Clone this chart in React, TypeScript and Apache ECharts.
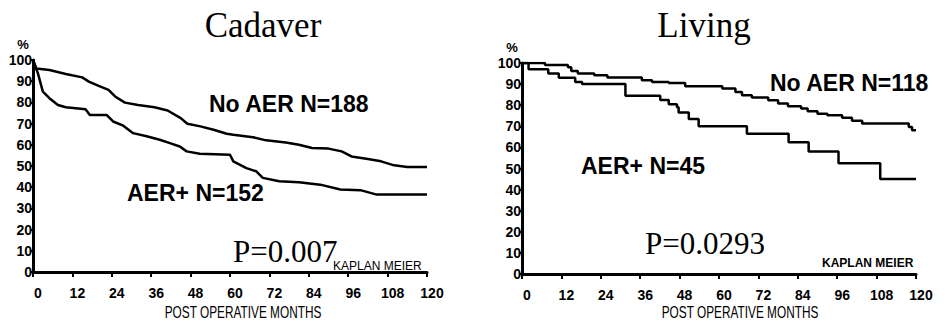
import React, { useEffect, useRef } from "react";
import * as echarts from "echarts";

// ---- data ----
const monthTicks = [0, 12, 24, 36, 48, 60, 72, 84, 96, 108, 120];
const percentTicks = [0, 10, 20, 30, 40, 50, 60, 70, 80, 90, 100];

const cadaverNoAerMonths = [0, 1, 5, 10, 15, 17, 20, 23, 25, 28, 32, 37, 41, 45, 47, 51, 55, 59, 61, 67, 71, 77, 81, 85, 90, 94, 97, 102, 106, 110, 114, 120];
const cadaverNoAerSurv = [100, 96, 95.3, 93.4, 91.8, 89.8, 87.8, 85.9, 82.8, 79.9, 78.8, 77.7, 76.2, 72.6, 69.9, 68.7, 67.1, 65.2, 64.7, 63.6, 62.1, 61.1, 60, 58.5, 58.2, 56.9, 54.5, 53.3, 52.2, 50.3, 49.5, 49.5];

const cadaverAerMonths = [0, 1.5, 3, 5, 7.6, 10, 16, 17.3, 22.4, 24.4, 27.5, 30.5, 34.6, 38.6, 41.7, 44.7, 46.8, 50.8, 60, 61, 65, 68, 70, 75, 81, 87.5, 93.6, 99.7, 104.7, 120];
const cadaverAerSurv = [100, 93.7, 85.1, 82, 78.8, 77.7, 76.8, 74.1, 74.1, 71, 69, 65.5, 64, 62.4, 60.8, 59.2, 56.9, 55.8, 55.3, 52.2, 49, 47.5, 44.4, 42.8, 42.3, 41.2, 38.9, 38.6, 36.5, 36.5];

const livingNoAerMonths = [0, 7, 14, 15, 17, 22, 26, 36.5, 39.6, 44.7, 49.7, 61, 65, 67, 70, 75, 78, 81, 85, 87, 90, 93, 97.5, 100.5, 103.6, 117.8, 118.8, 120];
const livingNoAerSurv = [100, 99, 98, 96.2, 95, 94.2, 93.1, 91.8, 91, 90.5, 89, 87.9, 86.3, 84.7, 83.6, 82.3, 80.8, 79.5, 78.4, 77.1, 76, 75.2, 74.1, 72.6, 71.3, 69.7, 68.1, 68.1];

const livingAerMonths = [0, 2, 8, 11.2, 16.2, 18.3, 31.5, 42.1, 44.7, 47.2, 47.7, 50.8, 53.8, 68.5, 81.2, 87.3, 96.4, 109.1, 120];
const livingAerSurv = [100, 97, 95, 93, 91, 90, 84.5, 82.5, 80.5, 79, 76.5, 73.5, 70, 66.5, 62.5, 58, 52.5, 45, 45];

const panelTitles = ["Cadaver", "Living"];
const groupLabels = ["No AER N=188", "AER+ N=152", "No AER N=118", "AER+ N=45"];
const pValues = ["P=0.007", "P=0.0293"];
const xAxisTitle = "POST OPERATIVE MONTHS";
const yAxisUnit = "%";
const methodLabel = "KAPLAN MEIER";

const pairs = (xs: number[], ys: number[]) => xs.map((x, i) => [x, ys[i]]);

const SANS = "'Liberation Sans', Arial, sans-serif";
const SERIF = "'Liberation Serif', 'Times New Roman', serif";

function txt(text: string, x: number, y: number, size: number, family: string, weight: string, align: string, extra: any = {}) {
  return {
    type: "text",
    x,
    y,
    ...extra,
    style: {
      text,
      fontSize: size,
      fontFamily: family,
      fontWeight: weight,
      fill: "#000",
      align,
      textAlign: align,
      verticalAlign: "middle",
      textVerticalAlign: "middle",
    },
  };
}

export default function App() {
  const ref = useRef<HTMLDivElement>(null);
  useEffect(() => {
    if (!ref.current) return;
    const chart = echarts.init(ref.current, null, { renderer: "svg" });
    const grids = [
      { left: 33, top: 60, width: 394, height: 212 },
      { left: 522, top: 63, width: 394, height: 211 },
    ];
    const xAxis = grids.map((_, i) => ({
      type: "value",
      gridIndex: i,
      min: monthTicks[0],
      max: monthTicks[monthTicks.length - 1],
      interval: 12,
      axisLine: { show: true, lineStyle: { color: "#000", width: 3 } },
      axisTick: { show: true, length: 5, lineStyle: { color: "#000", width: 2 } },
      axisLabel: {
        show: true,
        color: "#000",
        fontFamily: SANS,
        fontWeight: "bold",
        fontSize: 14,
        margin: 14,
        padding: [0, 0, 0, 10],
        formatter: (v: number) => (monthTicks.includes(v) ? String(v) : ""),
      },
      splitLine: { show: false },
    }));
    const yAxis = grids.map((_, i) => ({
      type: "value",
      gridIndex: i,
      min: percentTicks[0],
      max: percentTicks[percentTicks.length - 1],
      interval: 10,
      axisLine: { show: true, lineStyle: { color: "#000", width: 3 } },
      axisTick: { show: true, length: 3, lineStyle: { color: "#000", width: 2 } },
      axisLabel: {
        show: true,
        color: "#000",
        fontFamily: SANS,
        fontWeight: "bold",
        fontSize: 14,
        margin: 1,
        formatter: (v: number) => (percentTicks.includes(v) ? String(v) : ""),
      },
      splitLine: { show: false },
    }));
    const lineSeries = (data: number[][], idx: number, step: any) => ({
      type: "line",
      xAxisIndex: idx,
      yAxisIndex: idx,
      data,
      step,
      showSymbol: false,
      symbol: "none",
      lineStyle: { color: "#000", width: 2.5 },
      silent: true,
    });
    chart.setOption({
      animation: false,
      backgroundColor: "#fff",
      grid: grids,
      xAxis,
      yAxis,
      series: [
        lineSeries(pairs(cadaverNoAerMonths, cadaverNoAerSurv), 0, false),
        lineSeries(pairs(cadaverAerMonths, cadaverAerSurv), 0, false),
        lineSeries(pairs(livingNoAerMonths, livingNoAerSurv), 1, "end"),
        lineSeries(pairs(livingAerMonths, livingAerSurv), 1, "end"),
      ],
      graphic: [
        txt(panelTitles[0], 263, 25, 35, SERIF, "normal", "center"),
        txt(panelTitles[1], 704, 25, 35, SERIF, "normal", "center"),
        txt(yAxisUnit, 23, 44, 13, SANS, "bold", "center"),
        txt(yAxisUnit, 512, 47, 13, SANS, "bold", "center"),
        txt(groupLabels[0], 209, 104, 23, SANS, "bold", "left"),
        txt(groupLabels[1], 127, 193, 23, SANS, "bold", "left"),
        txt(groupLabels[2], 770, 83, 23, SANS, "bold", "left"),
        txt(groupLabels[3], 581, 166, 23, SANS, "bold", "left"),
        txt(pValues[0], 233, 251, 31, SERIF, "normal", "left"),
        txt(pValues[1], 645, 243, 31, SERIF, "normal", "left"),
        txt(methodLabel, 333, 266, 12, SANS, "normal", "left"),
        txt(methodLabel, 822, 263, 12, SANS, "bold", "left"),
        txt(xAxisTitle, 243, 312, 16, SANS, "normal", "center", { scaleX: 0.74 }),
        txt(xAxisTitle, 740, 312, 16, SANS, "normal", "center", { scaleX: 0.74 }),
      ],
    });
    return () => chart.dispose();
  }, []);
  return (
    <div
      ref={ref}
      style={{ position: "fixed", left: 0, top: 0, width: 945, height: 323, background: "#fff" }}
    />
  );
}
